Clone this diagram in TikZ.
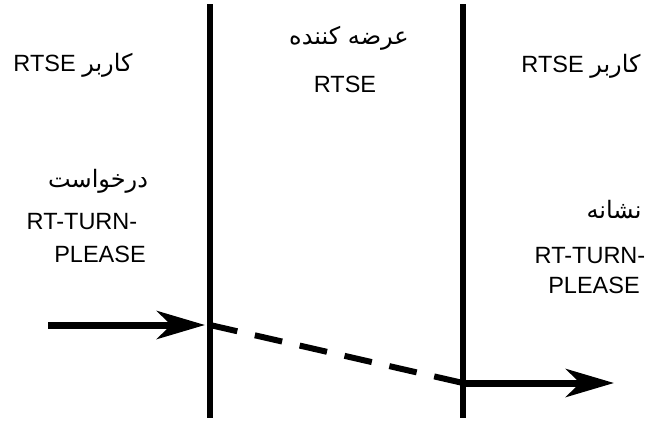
\documentclass[tikz,border=0pt]{standalone}
\usepackage{fontspec}
\setmainfont{Liberation Sans}
\newfontfamily\fa[Script=Arabic]{DejaVu Sans}
\TeXXeTstate=1
\usetikzlibrary{arrows.meta}
\newcommand{\fatxt}[1]{{\fa\fontsize{24}{28}\selectfont\beginR #1\endR}}
\tikzstyle{lbl}=[inner sep=0pt,anchor=base,font={\fontsize{23.5}{28}\selectfont}]
\tikzstyle{tline}=[line width=6.5pt]
\tikzstyle{msg}=[-{Stealth[length=48pt,width=28pt,inset=14pt]},line width=7pt]

\begin{document}
\begin{tikzpicture}[x=1pt,y=-1pt]
\useasboundingbox (0,0) rectangle (648,423);
\coordinate (aT) at (210,4);\coordinate (aB) at (210,418);
\coordinate (bT) at (463,4);\coordinate (bB) at (463,418);
\coordinate (src) at (48,325);\coordinate (tipL) at (205,325);
\coordinate (p1) at (210,325);\coordinate (p2) at (463,383);
\coordinate (dst) at (614,383);
\node[lbl] (userL) at (73,71) {RTSE \fatxt{کاربر}};
\node[lbl] (provA) at (349,44) {\fatxt{عرضه کننده}};
\node[lbl] (provB) at (345,92) {RTSE};
\node[lbl] (userR) at (581,72) {RTSE \fatxt{کاربر}};
\node[lbl] (reqA) at (98,187) {\fatxt{درخواست}};
\node[lbl] (reqB) at (82,229) {RT-TURN-};
\node[lbl] (reqC) at (100,262) {PLEASE};
\node[lbl] (indA) at (614,218) {\fatxt{نشانه}};
\node[lbl] (indB) at (590,263) {RT-TURN-};
\node[lbl] (indC) at (594,293) {PLEASE};
\draw[tline](aT)--(aB);\draw[tline](bT)--(bB);
\draw[msg](src)--(tipL);
\draw[line width=6pt,dash pattern=on 28pt off 18pt](p1)--(p2);
\draw[msg](p2)--(dst);
\end{tikzpicture}
\end{document}
